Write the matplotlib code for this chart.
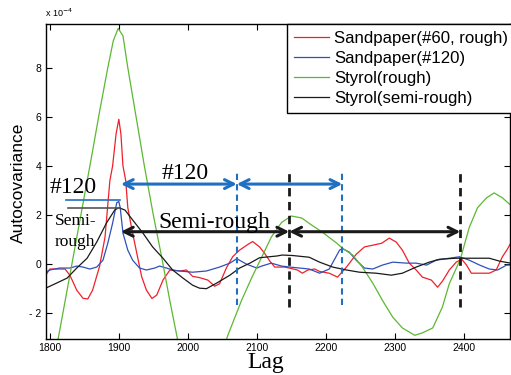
import matplotlib
matplotlib.use("Agg")
import matplotlib.pyplot as plt
from matplotlib import font_manager

# data (lag, autocovariance x 1e-4)
red_lag = [1794, 1800, 1812, 1822, 1829, 1839, 1848, 1855, 1862, 1872, 1880, 1887, 1891, 1896,
           1900, 1903, 1906, 1910, 1913, 1919, 1926, 1933, 1940, 1948, 1955, 1964, 1974, 1988,
           1998, 2007, 2017, 2029, 2039, 2046, 2056, 2065, 2075, 2087, 2094, 2104, 2111, 2119,
           2126, 2140, 2147, 2159, 2166, 2174, 2184, 2191, 2205, 2217, 2230, 2244, 2256, 2268,
           2281, 2292, 2302, 2311, 2321, 2331, 2340, 2353, 2362, 2369, 2379, 2389, 2397, 2404,
           2411, 2423, 2437, 2447, 2456, 2463, 2468]
red_val = [-0.45, -0.2, -0.2, -0.2, -0.45, -1.06, -1.39, -1.42, -1.06, -0.1, 1.1, 3.4, 4.0, 5.3,
           5.9, 5.3, 4.0, 3.4, 2.3, 1.4, 0.45, -0.5, -1.06, -1.4, -1.26, -0.65, -0.24, -0.28,
           -0.24, -0.5, -0.55, -0.65, -0.9, -0.8, -0.15, 0.3, 0.57, 0.8, 0.92, 0.7, 0.45, 0.12,
           -0.12, -0.12, -0.16, -0.24, -0.37, -0.24, -0.2, -0.3, -0.37, -0.53, -0.12, 0.4, 0.7, 0.77,
           0.85, 1.06, 0.9, 0.57, 0.04, -0.24, -0.53, -0.65, -0.94, -0.7, -0.24, 0.08, 0.2, -0.04,
           -0.37, -0.37, -0.37, -0.24, 0.3, 0.6, 0.85]

blue_lag = [1794, 1800, 1814, 1829, 1839, 1848, 1858, 1868, 1877, 1884, 1891, 1897, 1900, 1902,
            1906, 1913, 1920, 1930, 1940, 1952, 1959, 1969, 1978, 1988, 2007, 2027, 2046, 2061,
            2071, 2085, 2100, 2107, 2121, 2136, 2148, 2162, 2176, 2191, 2205, 2220, 2224, 2234,
            2244, 2256, 2268, 2282, 2297, 2317, 2331, 2346, 2360, 2379, 2394, 2408, 2423, 2437,
            2449, 2462, 2468]
blue_val = [-0.33, -0.24, -0.16, -0.16, -0.08, -0.12, -0.2, -0.12, 0.16, 0.85, 1.67, 2.5, 2.55, 2.3,
            1.26, 0.57, 0.16, -0.16, -0.24, -0.16, -0.08, -0.16, -0.24, -0.28, -0.33, -0.28, -0.12, 0.04,
            0.22, 0.0, -0.16, -0.08, 0.04, -0.08, -0.12, -0.16, -0.2, -0.37, -0.2, 0.57, 0.63, 0.49,
            0.16, -0.16, -0.2, -0.04, 0.08, 0.04, 0.04, -0.04, 0.16, 0.24, 0.3, 0.16, -0.04, -0.2,
            -0.24, -0.04, -0.04]

green_lag = [1790, 1812, 1830, 1845, 1860, 1872, 1884, 1892, 1899, 1906, 1913, 1925, 1937, 1950,
             1962, 1974, 1985, 2000, 2020, 2040, 2050, 2058, 2078, 2093, 2107, 2121, 2136, 2150,
             2165, 2179, 2195, 2216, 2224, 2239, 2253, 2268, 2282, 2297, 2311, 2329, 2340, 2355,
             2369, 2379, 2395, 2408, 2420, 2433, 2444, 2456, 2468]
green_val = [-6.4, -3.05, -0.3, 2.0, 4.3, 6.2, 8.0, 9.1, 9.6, 9.3, 8.0, 6.0, 4.0, 2.0,
             0.3, -1.5, -3.05, -4.8, -5.6, -4.6, -3.6, -2.9, -1.47, -0.53, 0.28, 1.1, 1.7, 1.96,
             1.88, 1.6, 1.3, 0.85, 0.65, 0.37, -0.12, -0.77, -1.47, -2.16, -2.6, -2.9, -2.8, -2.6,
             -1.75, -0.8, 0.2, 1.5, 2.3, 2.7, 2.9, 2.7, 2.4]

black_lag = [1794, 1810, 1825, 1839, 1854, 1868, 1882, 1894, 1900, 1909, 1920, 1935, 1949, 1964,
             1978, 1993, 2007, 2017, 2027, 2042, 2061, 2075, 2090, 2104, 2129, 2137, 2152, 2176,
             2191, 2210, 2230, 2249, 2273, 2295, 2311, 2331, 2350, 2365, 2389, 2418, 2437, 2452, 2468]
black_val = [-0.98, -0.77, -0.57, -0.16, 0.24, 0.9, 1.67, 2.2, 2.3, 2.2, 1.8, 1.26, 0.7, 0.24,
             -0.24, -0.57, -0.86, -0.98, -1.0, -0.77, -0.45, -0.16, 0.04, 0.26, 0.33, 0.37, 0.35, 0.28,
             0.08, -0.12, -0.24, -0.33, -0.37, -0.45, -0.37, -0.12, 0.08, 0.2, 0.24, 0.24, 0.24, 0.12, 0.04]

labels = ["Sandpaper(#60, rough)", "Sandpaper(#120)", "Styrol(rough)", "Styrol(semi-rough)"]
x_ticks = [1800, 1900, 2000, 2100, 2200, 2300, 2400]
y_ticks = [-2, 0, 2, 4, 6, 8]
y_ticklabels = ["- 2", "0", "2", "4", "6", "8"]

# period markers (lag positions) drawn as arrows / dashed lines
blue_marks = [1903, 2071, 2224]
black_marks = [1903, 2147, 2395]

names = {f.name for f in font_manager.fontManager.ttflist}
tick_font = "Liberation Sans Narrow" if "Liberation Sans Narrow" in names else "Liberation Sans"

c_red = "#f0202a"
c_blue = "#3050b8"
c_green = "#5cb832"
c_black = "#1a1a1a"
c_arrow = "#1f70c1"

fig = plt.figure(figsize=(5.11, 3.75), dpi=100)
ax = fig.add_axes([45.7 / 511, 1 - 339 / 375, (510 - 45.7) / 511, (339 - 24) / 375])

ax.plot(red_lag, red_val, color=c_red, lw=0.9, label=labels[0])
ax.plot(blue_lag, blue_val, color=c_blue, lw=0.9, label=labels[1])
ax.plot(green_lag, green_val, color=c_green, lw=0.9, label=labels[2])
ax.plot(black_lag, black_val, color=c_black, lw=0.9, label=labels[3])

ax.set_xlim(1794, 2467)
ax.set_ylim(-3.05, 9.78)
ax.set_xticks(x_ticks)
ax.set_yticks(y_ticks)
ax.set_yticklabels(y_ticklabels)
ax.tick_params(direction="in", length=4, width=0.8, top=True, right=True, pad=3,
               labelsize=7.5)
for lab in ax.get_xticklabels() + ax.get_yticklabels():
    lab.set_fontfamily(tick_font)
for sp in ax.spines.values():
    sp.set_linewidth(1.0)

# dashed verticals
for m in blue_marks[1:]:
    ax.plot([m, m], [-1.67, 3.76], color=c_arrow, lw=1.5, ls=(0, (3, 2)))
for m in black_marks[1:]:
    ax.plot([m, m], [-1.74, 3.7], color=c_black, lw=2, ls=(0, (3, 2)))

# double arrows
for a, b in zip(blue_marks[:-1], blue_marks[1:]):
    ax.annotate("", xy=(b, 3.26), xytext=(a, 3.26),
                arrowprops=dict(arrowstyle="<->", lw=2.2, color=c_arrow, mutation_scale=16,
                                shrinkA=0, shrinkB=0))
for a, b in zip(black_marks[:-1], black_marks[1:]):
    ax.annotate("", xy=(b, 1.32), xytext=(a, 1.32),
                arrowprops=dict(arrowstyle="<->", lw=2.2, color=c_black, mutation_scale=16,
                                shrinkA=0, shrinkB=0))

# peak markers next to the left labels
ax.plot([1823, 1901], [max(blue_val) + 0.05] * 2, color=c_arrow, lw=1.2)
ax.plot([1826, 1902], [max(black_val)] * 2, color="#555555", lw=1.2)

serif = "Liberation Serif"
ax.text(1962, 3.45, "#120", family=serif, fontsize=17, va="baseline")
ax.text(1800, 2.9, "#120", family=serif, fontsize=17, va="baseline")
ax.text(1958, 1.47, "Semi-rough", family=serif, fontsize=17, va="baseline")
ax.text(1807, 1.6, "Semi-", family=serif, fontsize=12.5, va="baseline")
ax.text(1807, 0.72, "rough", family=serif, fontsize=12.5, va="baseline")

leg = ax.legend(loc="upper left", bbox_to_anchor=((287 - 45.7) / 464.3, 1.0), borderaxespad=0,
                fancybox=False, framealpha=1, edgecolor="black", handlelength=2.05,
                handletextpad=0.35, labelspacing=0.3, borderpad=0.42,
                prop={"family": "Liberation Sans", "size": 12.1})
leg.get_frame().set_linewidth(1.0)

fig.text(18 / 511, 1 - 183 / 375, "Autocovariance", rotation=90, ha="center", va="center",
         family="Liberation Sans", fontsize=12.5)
fig.text(247 / 511, 1 - 368 / 375, "Lag", family=serif, fontsize=17, va="baseline")
fig.text(45 / 511, 1 - 17 / 375, r"x 10$^{-4}$", family=tick_font, fontsize=6.5)

fig.savefig("out.png", dpi=100)
